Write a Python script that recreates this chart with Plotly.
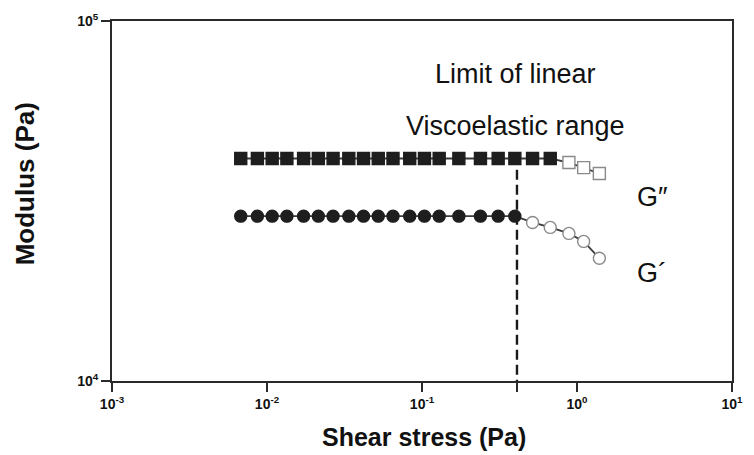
import plotly.graph_objects as go

# Shear stress (Pa)
shear_stress = [0.00677, 0.00867, 0.0108, 0.01344, 0.01722, 0.02144, 0.02669,
                0.03372, 0.04195, 0.05222, 0.06501, 0.08333, 0.1037, 0.1291,
                0.1729, 0.2383, 0.3100, 0.3972, 0.5167, 0.6722, 0.8866,
                1.104, 1.394]
# G'' (upper series, squares)
g_double = [41500] * 20 + [40440, 39150, 37700]
g_double_filled = 20
# G' (lower series, circles)
g_single = [28700] * 18 + [27570, 26710, 25700, 24420, 21920]
g_single_filled = 18

limit_stress = 0.41
x_tick_vals = [0.001, 0.01, 0.1, 1, 10]
x_tick_text = ["<b>10<sup>-3</sup></b>", "<b>10<sup>-2</sup></b>", "<b>10<sup>-1</sup></b>",
               "<b>10<sup>0</sup></b>", "<b>10<sup>1</sup></b>"]
y_tick_vals = [1e4, 1e5]
y_tick_text = ["<b>10<sup>4</sup></b>", "<b>10<sup>5</sup></b>"]

FILL = "#1e1e1e"
OPEN_EDGE = "#8a8a8a"


def colors(n, k):
    fill = [FILL] * k + ["white"] * (n - k)
    edge = [FILL] * k + [OPEN_EDGE] * (n - k)
    return fill, edge


fig = go.Figure()

# limit of linear viscoelastic range
fig.add_trace(go.Scatter(
    x=[limit_stress, limit_stress], y=[42500, 1e4], mode="lines",
    line=dict(color="#1a1a1a", width=2.4, dash="10px,5px"),
    hoverinfo="skip", showlegend=False))

for yv, k, sym in [(g_double, g_double_filled, "square"),
                   (g_single, g_single_filled, "circle")]:
    fc, ec = colors(len(yv), k)
    fig.add_trace(go.Scatter(
        x=shear_stress, y=yv, mode="lines+markers",
        line=dict(color="#3a3a3a", width=1.8),
        marker=dict(symbol=sym, size=12, color=fc,
                    line=dict(color=ec, width=1.4)),
        showlegend=False))

TXT = dict(family="Liberation Sans", color="#111")
ANN = dict(xref="paper", yref="paper", showarrow=False, yanchor="middle")
fig.add_annotation(x=0.65, y=0.853, text="Limit of linear", xanchor="center",
                   font=dict(size=27, **TXT), **ANN)
fig.add_annotation(x=0.65, y=0.708, text="Viscoelastic range", xanchor="center",
                   font=dict(size=27, **TXT), **ANN)
fig.add_annotation(x=0.843, y=0.51, text="G″", xanchor="left",
                   font=dict(size=27, **TXT), **ANN)
fig.add_annotation(x=0.843, y=0.30, text="G´", xanchor="left",
                   font=dict(size=27, **TXT), **ANN)
# axis titles
fig.add_annotation(x=0.504, y=-0.155, text="<b>Shear stress (Pa)</b>",
                   xanchor="center", font=dict(size=25, **TXT), **ANN)
fig.add_annotation(x=-0.141, y=0.548, text="<b>Modulus (Pa)</b>", textangle=-90,
                   xanchor="center", font=dict(size=26, **TXT), **ANN)

axis_common = dict(showgrid=False, zeroline=False, showline=True,
                   linecolor="#2a2a2a", linewidth=2, mirror=True,
                   ticks="outside", ticklen=9, tickwidth=2, tickcolor="#2a2a2a",
                   tickfont=dict(family="Liberation Sans", size=14, color="#111"))

fig.update_xaxes(type="log", range=[-3, 1],
                 tickvals=x_tick_vals + [limit_stress],
                 ticktext=x_tick_text + [""],
                 **axis_common)
fig.update_yaxes(type="log", range=[4, 5],
                 tickvals=y_tick_vals, ticktext=y_tick_text,
                 **axis_common)

fig.update_layout(width=754, height=455,
                  margin=dict(l=112, r=11, t=20, b=74),
                  paper_bgcolor="white", plot_bgcolor="white",
                  font=dict(family="Liberation Sans"))

fig.write_html("out.html")
